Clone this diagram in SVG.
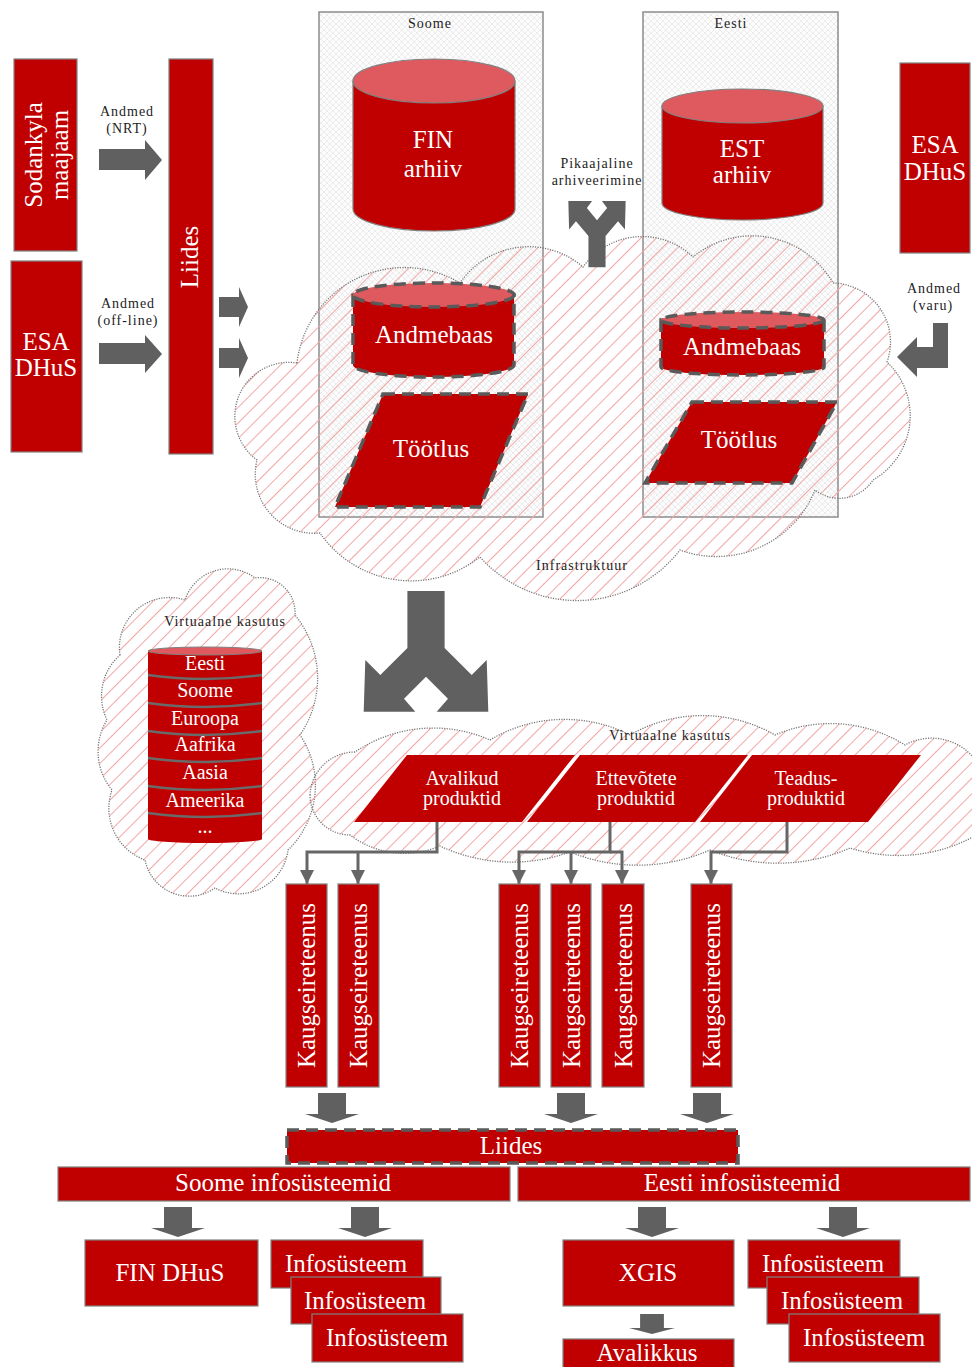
<svg xmlns="http://www.w3.org/2000/svg" width="972" height="1367" viewBox="0 0 972 1367">
<style>
  .red{fill:#c00000;stroke:#808080;stroke-width:1.2}
  .top{fill:#de5a5e;stroke:#808080;stroke-width:1.2}
  .wt{fill:#fff;font-family:"Liberation Serif","Times New Roman",serif;text-anchor:middle}
  .lbl{fill:#222;font-family:"Liberation Serif","Times New Roman",serif;font-size:14px;letter-spacing:1px;text-anchor:middle}
  .cloud{fill:url(#hatch);stroke:#777;stroke-width:1.3;stroke-dasharray:1.2 1.3}
  .box{fill:url(#cross);stroke:#8c8c8c;stroke-width:1.5}
  .blk{fill:#606060}
  .conn{fill:none;stroke:#666;stroke-width:3}
  .dash{stroke:#5a5a5a;stroke-width:3.5;stroke-dasharray:12 7}
  .sep{fill:none;stroke:#6a6a6a;stroke-width:2.5}
</style>
<defs>
  <pattern id="hatch" patternUnits="userSpaceOnUse" width="11" height="11" patternTransform="rotate(-45)">
    <line x1="0" y1="5.5" x2="11" y2="5.5" stroke="#f3a6a6" stroke-width="1"/>
  </pattern>
  <pattern id="cross" patternUnits="userSpaceOnUse" width="6" height="6">
    <rect width="6" height="6" fill="#fcfcfc"/>
    <path d="M0,0L6,6M6,0L0,6" stroke="#e0e0e0" stroke-width="0.6"/>
  </pattern>
  <marker id="ah" markerUnits="userSpaceOnUse" markerWidth="14" markerHeight="14" refX="14" refY="7" orient="auto">
    <path d="M0,0L14,7L0,14Z" fill="#666"/>
  </marker>
  <!-- downward block arrow -->
  <path id="dn" d="M-14,0H14V21H27L0,30L-27,21H-14Z"/>
  <!-- split (fork) block arrow, stem at top, split at y=0 -->
  <path id="split" d="M-18.6,-57H18.6V0L45.7,27L60.7,12L62.3,63.7L10.7,63.7L22,50.7L0,28.7L-22,50.7L-10.7,63.7L-62.3,63.7L-60.7,12L-45.7,27L-18.6,0Z"/>
</defs>

<rect width="972" height="1367" fill="#fff"/>

<!-- country containers -->
<g id="soome-box">
  <rect class="box" x="319" y="12" width="224" height="505"/>
  <text class="lbl" x="430" y="28">Soome</text>
</g>
<g id="eesti-box">
  <rect class="box" x="643" y="12" width="195" height="505"/>
  <text class="lbl" x="731" y="28">Eesti</text>
</g>

<!-- infrastructure cloud -->
<g id="infra-cloud">
  <path class="cloud" d="M297,363A108,108 0 0 1 460,283A83,83 0 0 1 583,267A73,73 0 0 1 693,257A93,93 0 0 1 833,283A59,59 0 0 1 887,362A74,74 0 0 1 873,480A40,40 0 0 1 815,490A106,106 0 0 1 680,550A130,130 0 0 1 480,557A111,111 0 0 1 320,533A59,59 0 0 1 257,460A54,54 0 0 1 297,363Z"/>
  <text class="lbl" x="582" y="570" letter-spacing="1.2">Infrastruktuur</text>
</g>

<!-- archives -->
<g id="fin-arhiiv">
  <path class="red" d="M353,81V209A81,22 0 0 0 515,209V81Z"/>
  <ellipse class="top" cx="434" cy="81" rx="81" ry="22"/>
  <text class="wt" font-size="25" x="433" y="148">FIN</text>
  <text class="wt" font-size="25" x="433" y="177">arhiiv</text>
</g>
<g id="est-arhiiv">
  <path class="red" d="M662,106V203A80.5,17 0 0 0 823,203V106Z"/>
  <ellipse class="top" cx="742.5" cy="106" rx="80.5" ry="17"/>
  <text class="wt" font-size="25" x="742" y="157">EST</text>
  <text class="wt" font-size="25" x="742" y="183">arhiiv</text>
</g>

<!-- databases -->
<g id="andmebaas-fi">
  <path class="red dash" d="M353,295V365A80.5,12 0 0 0 514,365V295Z"/>
  <ellipse class="top dash" cx="433.5" cy="295" rx="80.5" ry="12"/>
  <text class="wt" font-size="25" x="434" y="343">Andmebaas</text>
</g>
<g id="andmebaas-ee">
  <path class="red dash" d="M661,320V367A81.5,8 0 0 0 824,367V320Z"/>
  <ellipse class="top dash" cx="742.5" cy="320" rx="81.5" ry="8"/>
  <text class="wt" font-size="25" x="742" y="355">Andmebaas</text>
</g>

<!-- processing -->
<g id="tootlus-fi">
  <polygon class="red dash" points="383,394 528,394 480,507 335,507"/>
  <text class="wt" font-size="25" x="431" y="457">Töötlus</text>
</g>
<g id="tootlus-ee">
  <polygon class="red dash" points="692,402 837,402 792,483 645,483"/>
  <text class="wt" font-size="25" x="739" y="448">Töötlus</text>
</g>

<!-- long-term archiving -->
<g id="pikaajaline">
  <text class="lbl" x="597" y="168">Pikaajaline</text>
  <text class="lbl" x="597" y="185">arhiveerimine</text>
  <use href="#split" class="blk" transform="translate(597,236) scale(0.46,-0.55)"/>
</g>

<!-- data sources -->
<g id="sodankyla">
  <rect class="red" x="14" y="59" width="63" height="192"/>
  <text class="wt" font-size="25" transform="translate(42,155) rotate(-90)">Sodankyla</text>
  <text class="wt" font-size="25" transform="translate(68,155) rotate(-90)">maajaam</text>
</g>
<g id="esa-dhus-left">
  <rect class="red" x="11" y="261" width="71" height="191"/>
  <text class="wt" font-size="25" x="46" y="350">ESA</text>
  <text class="wt" font-size="25" x="46" y="376">DHuS</text>
</g>
<g id="liides-top">
  <rect class="red" x="169" y="59" width="44" height="395"/>
  <text class="wt" font-size="25" transform="translate(198,257) rotate(-90)">Liides</text>
</g>
<g id="esa-dhus-right">
  <rect class="red" x="900" y="63" width="70" height="190"/>
  <text class="wt" font-size="25" x="935" y="153">ESA</text>
  <text class="wt" font-size="25" x="935" y="180">DHuS</text>
</g>

<!-- data flow arrows -->
<g id="input-arrows">
  <text class="lbl" x="127" y="116">Andmed</text>
  <text class="lbl" x="127" y="133">(NRT)</text>
  <path class="blk" d="M99,149H145V140L162,160L145,180V170H99Z"/>
  <text class="lbl" x="128" y="308">Andmed</text>
  <text class="lbl" x="128" y="325">(off-line)</text>
  <path class="blk" d="M99,343H145V335L162,354L145,373V364H99Z"/>
  <path class="blk" d="M219,297H239V287L248,307L239,327V317H219Z"/>
  <path class="blk" d="M219,348H239V338L248,358L239,378V368H219Z"/>
  <text class="lbl" x="934" y="293">Andmed</text>
  <text class="lbl" x="933" y="310">(varu)</text>
  <path class="blk" d="M933,323H948V368H917V377L897,357L917,337V347H933Z"/>
</g>

<!-- fork from infrastructure to virtual usage -->
<use href="#split" class="blk" transform="translate(426,648)"/>

<!-- regional virtual usage -->
<g id="virtual-left">
  <path class="cloud" d="M120,655A50,50 0 0 1 185,600A45,45 0 0 1 255,578A35,35 0 0 1 295,615A100,100 0 0 1 300,735A90,90 0 0 1 288,850A50,50 0 0 1 215,888A45,45 0 0 1 145,860A55,55 0 0 1 112,790A60,60 0 0 1 107,720A55,55 0 0 1 120,655Z"/>
  <text class="lbl" x="225" y="626" font-size="15" letter-spacing="0">Virtuaalne kasutus</text>
  <rect fill="#c00000" x="148" y="651" width="114" height="188"/>
  <ellipse fill="#c00000" cx="205" cy="839" rx="57" ry="4"/>
  <ellipse fill="#de5a5e" stroke="#808080" stroke-width="1" cx="205" cy="651" rx="57" ry="4"/>
  <path class="sep" d="M148,675Q205,683 262,675M148,703Q205,711 262,703M148,731Q205,739 262,731M148,758Q205,766 262,758M148,786Q205,794 262,786M148,813Q205,821 262,813"/>
  <g class="wt" font-size="20">
    <text x="205" y="670">Eesti</text>
    <text x="205" y="697">Soome</text>
    <text x="205" y="725">Euroopa</text>
    <text x="205" y="751">Aafrika</text>
    <text x="205" y="779">Aasia</text>
    <text x="205" y="807">Ameerika</text>
    <text x="205" y="833">...</text>
  </g>
</g>

<!-- product virtual usage -->
<g id="virtual-products">
  <path class="cloud" d="M310,795A45,45 0 0 1 355,752A140,140 0 0 1 490,740A145,145 0 0 1 630,735A145,145 0 0 1 775,735A140,140 0 0 1 905,745A55,55 0 0 1 985,780L985,830A160,160 0 0 1 850,848A180,180 0 0 1 710,850A180,180 0 0 1 570,852A170,170 0 0 1 440,846A90,90 0 0 1 350,835A40,40 0 0 1 310,795Z"/>
  <text class="lbl" x="670" y="740" font-size="15" letter-spacing="0">Virtuaalne kasutus</text>
</g>
<g id="avalikud">
  <polygon fill="#c00000" points="407,755 575,755 522,822 354,822"/>
  <text class="wt" font-size="20" x="462" y="785">Avalikud</text>
  <text class="wt" font-size="20" x="462" y="805">produktid</text>
</g>
<g id="ettevotete">
  <polygon fill="#c00000" points="580,755 748,755 695,822 527,822"/>
  <text class="wt" font-size="20" x="636" y="785">Ettevõtete</text>
  <text class="wt" font-size="20" x="636" y="805">produktid</text>
</g>
<g id="teadus">
  <polygon fill="#c00000" points="752,755 921,755 868,822 700,822"/>
  <text class="wt" font-size="20" x="806" y="785">Teadus-</text>
  <text class="wt" font-size="20" x="806" y="805">produktid</text>
</g>

<!-- connectors -->
<g id="connectors">
  <path class="conn" d="M437,822V852H307V884" marker-end="url(#ah)"/>
  <path class="conn" d="M358,852V884" marker-end="url(#ah)"/>
  <path class="conn" d="M610,822V852H519V884" marker-end="url(#ah)"/>
  <path class="conn" d="M610,852H622V884" marker-end="url(#ah)"/>
  <path class="conn" d="M571,852V884" marker-end="url(#ah)"/>
  <path class="conn" d="M787,822V852H711V884" marker-end="url(#ah)"/>
</g>

<!-- remote sensing services -->
<g id="kaugseire-1"><rect class="red" x="286" y="884" width="41" height="203"/><text class="wt" font-size="25" transform="translate(315,985.5) rotate(-90)">Kaugseireteenus</text></g>
<g id="kaugseire-2"><rect class="red" x="338" y="884" width="41" height="203"/><text class="wt" font-size="25" transform="translate(367,985.5) rotate(-90)">Kaugseireteenus</text></g>
<g id="kaugseire-3"><rect class="red" x="499" y="884" width="41" height="203"/><text class="wt" font-size="25" transform="translate(528,985.5) rotate(-90)">Kaugseireteenus</text></g>
<g id="kaugseire-4"><rect class="red" x="551" y="884" width="40" height="203"/><text class="wt" font-size="25" transform="translate(579.5,985.5) rotate(-90)">Kaugseireteenus</text></g>
<g id="kaugseire-5"><rect class="red" x="602" y="884" width="42" height="203"/><text class="wt" font-size="25" transform="translate(631.5,985.5) rotate(-90)">Kaugseireteenus</text></g>
<g id="kaugseire-6"><rect class="red" x="691" y="884" width="41" height="203"/><text class="wt" font-size="25" transform="translate(720,985.5) rotate(-90)">Kaugseireteenus</text></g>

<!-- block arrows into lower interface and systems -->
<g id="block-arrows" class="blk">
  <use href="#dn" transform="translate(332,1093)"/>
  <use href="#dn" transform="translate(571,1093)"/>
  <use href="#dn" transform="translate(707,1093)"/>
  <use href="#dn" transform="translate(178,1207)"/>
  <use href="#dn" transform="translate(365,1207)"/>
  <use href="#dn" transform="translate(652,1207)"/>
  <use href="#dn" transform="translate(843,1207)"/>
  <use href="#dn" transform="translate(652,1314) scale(0.85,0.67)"/>
</g>

<g id="liides-bottom">
  <rect class="red dash" x="287" y="1130" width="451" height="33"/>
  <text class="wt" font-size="25" x="511" y="1154">Liides</text>
</g>
<g id="soome-info">
  <rect class="red" x="58" y="1167" width="452" height="34"/>
  <text class="wt" font-size="25" x="283" y="1191">Soome infosüsteemid</text>
</g>
<g id="eesti-info">
  <rect class="red" x="518" y="1167" width="452" height="34"/>
  <text class="wt" font-size="25" x="742" y="1191">Eesti infosüsteemid</text>
</g>

<g id="fin-dhus">
  <rect class="red" x="85" y="1240" width="173" height="66"/>
  <text class="wt" font-size="25" x="170" y="1281">FIN DHuS</text>
</g>
<g id="infosysteem-fi">
  <rect class="red" x="271" y="1240" width="152" height="48"/>
  <text class="wt" font-size="25" x="346" y="1272">Infosüsteem</text>
  <rect class="red" x="291" y="1277" width="150" height="47"/>
  <text class="wt" font-size="25" x="365" y="1309">Infosüsteem</text>
  <rect class="red" x="312" y="1314" width="151" height="48"/>
  <text class="wt" font-size="25" x="387" y="1346">Infosüsteem</text>
</g>
<g id="xgis">
  <rect class="red" x="563" y="1240" width="171" height="66"/>
  <text class="wt" font-size="25" x="648" y="1281">XGIS</text>
</g>
<g id="avalikkus">
  <rect class="red" x="563" y="1339" width="171" height="34"/>
  <text class="wt" font-size="25" x="647" y="1361">Avalikkus</text>
</g>
<g id="infosysteem-ee">
  <rect class="red" x="748" y="1240" width="152" height="48"/>
  <text class="wt" font-size="25" x="823" y="1272">Infosüsteem</text>
  <rect class="red" x="767" y="1277" width="152" height="47"/>
  <text class="wt" font-size="25" x="842" y="1309">Infosüsteem</text>
  <rect class="red" x="789" y="1314" width="151" height="48"/>
  <text class="wt" font-size="25" x="864" y="1346">Infosüsteem</text>
</g>
</svg>
